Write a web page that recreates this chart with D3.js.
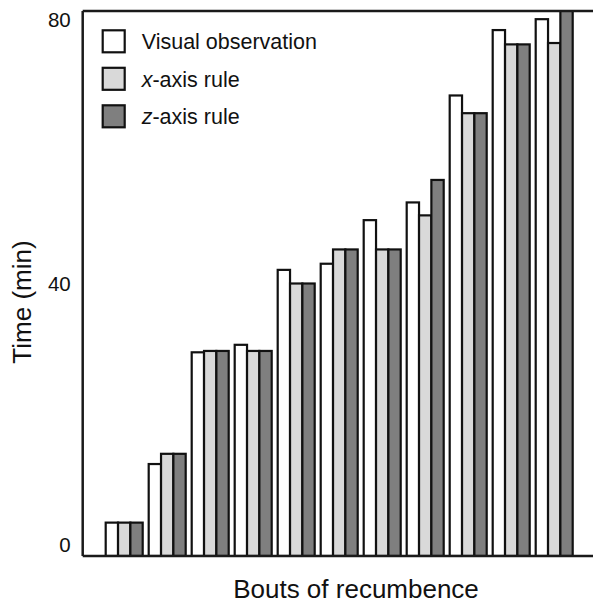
<html>
    <head>
        <title>Bouts of recumbence</title>
        <script src="https://d3js.org/d3.v7.min.js" charset="utf-8"></script>
        <style>
            body {
                margin: 0;
                background: white;
                font-family: "Liberation Sans", Arial, sans-serif;
            }
        </style>
    </head>
    <body>
        <script>
            var width = 593;
            var height = 606;

            // one value per bout
            var bouts = [1, 2, 3, 4, 5, 6, 7, 8, 9, 10, 11];
            var visual = [4.9, 13.5, 29.9, 31, 42, 42.9, 49.3, 51.9, 67.6, 77.2, 78.8];
            var xRule = [4.9, 15, 30.1, 30.1, 40, 45, 45, 50, 65, 75.1, 75.3];
            var zRule = [4.9, 15, 30.1, 30.1, 40, 45, 45, 55.2, 65, 75.1, 84];

            var seriesNames = ["Visual observation", "x-axis rule", "z-axis rule"];
            var seriesColors = ["#ffffff", "#d9d9d9", "#7f7f7f"];
            var yTicks = [0, 40, 80];

            // note: "top" is taken by window.top, so use other names
            var plotL = 82.7, plotT = 11, plotB = 556, plotR = 593;

            var svg = d3.select("body")
            .append("svg")
            .attr("width", width)
            .attr("height", height);

            var x = d3.scaleBand()
            .domain(bouts)
            .range([102.7, 575.7])
            .paddingInner(6 / 43)
            .paddingOuter(3 / 43);

            var xSub = d3.scaleBand()
            .domain([0, 1, 2])
            .range([0, x.bandwidth()]);

            var y = d3.scaleLinear()
            .domain([0, 80])
            .range([plotB, plotT]);

            svg.append("clipPath")
            .attr("id", "plot")
            .append("rect")
            .attr("x", plotL)
            .attr("y", plotT)
            .attr("width", plotR - plotL)
            .attr("height", plotB - plotT);

            var rows = bouts.map(function(b, i) {
                return [visual[i], xRule[i], zRule[i]];
            });

            var g = svg.append("g").attr("clip-path", "url(#plot)");

            var groups = g.selectAll("g")
            .data(rows)
            .enter()
            .append("g")
            .attr("transform", function(d, i) { return "translate(" + x(bouts[i]) + ",0)"; });

            groups.selectAll("rect")
            .data(function(d) { return d; })
            .enter()
            .append("rect")
            .attr("x", function(d, j) { return xSub(j); })
            .attr("y", function(d) { return y(d); })
            .attr("width", xSub.bandwidth())
            .attr("height", function(d) { return plotB - y(d); })
            .attr("fill", function(d, j) { return seriesColors[j]; })
            .attr("stroke", "#111")
            .attr("stroke-width", 2.2);

            // frame: left, top and bottom only
            var frame = svg.append("g")
            .attr("stroke", "#1a1a1a")
            .attr("stroke-width", 2.5);
            frame.append("line").attr("x1", plotL).attr("x2", plotL).attr("y1", plotT).attr("y2", plotB);
            frame.append("line").attr("x1", plotL).attr("x2", plotR).attr("y1", plotT).attr("y2", plotT);
            frame.append("line").attr("x1", plotL).attr("x2", plotR).attr("y1", plotB).attr("y2", plotB);

            // y tick labels, end ones nudged inside like the original
            svg.selectAll(".ytick")
            .data(yTicks)
            .enter()
            .append("text")
            .attr("class", "ytick")
            .attr("x", 70.7)
            .attr("y", function(d) { return y(d) + (d == 0 ? -11 : d == 80 ? 9 : 0); })
            .attr("dy", "0.36em")
            .attr("text-anchor", "end")
            .attr("font-size", 20.5)
            .attr("fill", "#111")
            .text(function(d) { return d; });

            svg.append("text")
            .attr("transform", "translate(31,302) rotate(-90)")
            .attr("text-anchor", "middle")
            .attr("font-size", 26)
            .attr("fill", "#111")
            .text("Time (min)");

            svg.append("text")
            .attr("x", 356)
            .attr("y", 598)
            .attr("text-anchor", "middle")
            .attr("font-size", 26)
            .attr("fill", "#111")
            .text("Bouts of recumbence");

            // legend
            var legend = svg.selectAll(".legend")
            .data(seriesNames)
            .enter()
            .append("g")
            .attr("class", "legend")
            .attr("transform", function(d, i) { return "translate(102.7," + (30.3 + i * 37.5) + ")"; });

            legend.append("rect")
            .attr("width", 22)
            .attr("height", 22)
            .attr("fill", function(d, i) { return seriesColors[i]; })
            .attr("stroke", "#111")
            .attr("stroke-width", 2.2);

            var label = legend.append("text")
            .attr("x", 39)
            .attr("y", 11)
            .attr("dy", "0.36em")
            .attr("font-size", 21.5)
            .attr("fill", "#111");

            label.each(function(d) {
                var t = d3.select(this);
                if (d.indexOf("-axis") == 1) {
                    t.append("tspan").attr("font-style", "italic").text(d.charAt(0));
                    t.append("tspan").text(d.slice(1));
                } else {
                    t.text(d);
                }
            });
        </script>
    </body>
</html>
